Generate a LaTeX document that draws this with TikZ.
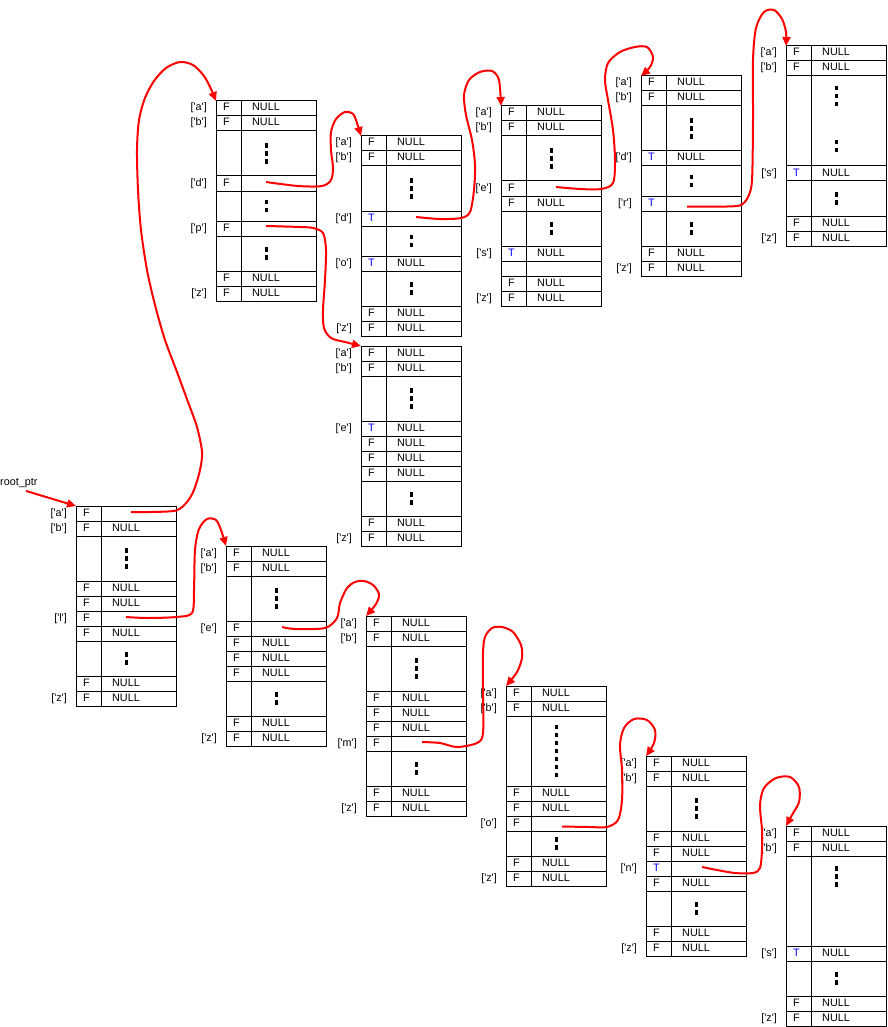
\documentclass[tikz,border=0pt]{standalone}
\usepackage{fontspec}
\newfontfamily\lsans{Liberation Sans}
\usetikzlibrary{arrows.meta,calc}
\definecolor{tblue}{RGB}{0,0,255}
\definecolor{pred}{RGB}{255,0,0}
\def\tokG{G}\def\tokH{H}\def\tokF{F}\def\tokT{T}\def\tokN{N}\def\tokP{P}\def\tokNone{-}
\newcommand\trietable[4]{%
  \node[tbl] (#1) at (#2,#3) {};
  \xdef\ty{#3}%
  \foreach[count=\i] \lab/\flg/\val/\h in {#4}{%
    \pgfmathsetmacro\yb{\ty+\h}%
    \pgfmathsetmacro\ym{\ty+\h/2}%
    \pgfmathsetmacro\yt{\ym+2.5}%
    \draw[cellline] (#2,\ty) rectangle (#2+100,\yb);
    \draw[cellline] (#2+25,\ty) -- (#2+25,\yb);
    \ifx\flg\tokG
      \pgfmathsetmacro\ys{\ym-(8*\val-3.5)/2}%
      \draw[dotcol] (#2+50,\ys) -- ++(0,8*\val-3.5);
    \else
    \ifx\flg\tokH
      \draw[dotcol] (#2+50,\ty+10) -- ++(0,8*\val-3.5);
    \else
      \ifx\lab\tokNone\else
        \node[txt,anchor=base east] (#1r\i l) at (#2-9,\yt) {['\lab']};
      \fi
      \ifx\flg\tokF \node[txt] (#1r\i f) at (#2+10.5,\yt) {F};\fi
      \ifx\flg\tokT \node[txt,text=tblue] (#1r\i f) at (#2+10.5,\yt) {T};\fi
      \ifx\val\tokN \node[txt] (#1r\i v) at (#2+50,\yt) {NULL};\fi
      \ifx\val\tokP \coordinate (#1-\lab) at (#2+50,\ym);\fi
    \fi\fi
    \xdef\ty{\yb}%
  }%
}
\begin{document}
\begin{tikzpicture}[x=1pt,y=-1pt,
  cellline/.style={draw=black,line width=1pt},
  dotcol/.style={draw=black,line width=3pt,dash pattern=on 4.5pt off 3.5pt},
  txt/.style={font=\lsans\fontsize{10.8}{12}\selectfont,inner sep=0pt,anchor=base},
  tbl/.style={inner sep=0pt,minimum width=100pt,minimum height=200pt,anchor=north west},
  ptr/.style={draw=pred,line width=2pt,-{Triangle[length=9pt,width=8pt]}}]
\useasboundingbox (0,0) rectangle (887,1027);

% root table
\trietable{A}{76}{506}{a/F/P/15,b/F/N/15,-/G/3/45,-/F/N/15,-/F/N/15,l/F/P/15,-/F/N/15,-/G/2/35,-/F/N/15,z/F/N/15}
% upper chain
\trietable{B}{216}{101}{a/F/N/15,b/F/N/15,-/G/3/45,d/F/P/15,-/G/2/30,p/F/P/15,-/G/2/35,-/F/N/15,z/F/N/15}
\trietable{C}{361}{136}{a/F/N/15,b/F/N/15,-/G/3/45,d/T/P/15,-/G/2/30,o/T/N/15,-/G/2/35,-/F/N/15,z/F/N/15}
\trietable{D}{361}{346}{a/F/N/15,b/F/N/15,-/G/3/45,e/T/N/15,-/F/N/15,-/F/N/15,-/F/N/15,-/G/2/35,-/F/N/15,z/F/N/15}
\trietable{E}{501}{106}{a/F/N/15,b/F/N/15,-/G/3/45,e/F/P/15,-/F/N/15,-/G/2/35,s/T/N/15,-/E/E/15,-/F/N/15,z/F/N/15}
\trietable{F}{641}{76}{a/F/N/15,b/F/N/15,-/G/3/45,d/T/N/15,-/G/2/30,r/T/P/15,-/G/2/35,-/F/N/15,z/F/N/15}
\trietable{G}{786}{46}{a/F/N/15,b/F/N/15,-/H/3/90,s/T/N/15,-/G/2/35,-/F/N/15,z/F/N/15}
\draw[dotcol] (836,140) -- ++(0,12.5);
% lower chain
\trietable{H}{226}{546}{a/F/N/15,b/F/N/15,-/G/3/45,e/F/P/15,-/F/N/15,-/F/N/15,-/F/N/15,-/G/2/35,-/F/N/15,z/F/N/15}
\trietable{I}{366}{616}{a/F/N/15,b/F/N/15,-/G/3/45,-/F/N/15,-/F/N/15,-/F/N/15,m/F/P/15,-/G/2/35,-/F/N/15,z/F/N/15}
\trietable{J}{506}{686}{a/F/N/15,b/F/N/15,-/G/7/70,-/F/N/15,-/F/N/15,o/F/P/15,-/G/2/25,-/F/N/15,z/F/N/15}
\trietable{K}{646}{756}{a/F/N/15,b/F/N/15,-/G/3/45,-/F/N/15,-/F/N/15,n/T/P/15,-/F/N/15,-/G/2/35,-/F/N/15,z/F/N/15}
\trietable{L}{786}{826}{a/F/N/15,b/F/N/15,-/H/3/90,s/T/N/15,-/G/2/35,-/F/N/15,z/F/N/15}

% root pointer
\node[txt,anchor=base west] (root) at (0,485.5) {root\_ptr};
\coordinate (rootstart) at ($(root.south west)+(26,3)$);
\draw[ptr] (rootstart) -- (A.north west);

% connectors
\draw[ptr] plot[smooth,tension=0.5] coordinates {($(A-a)+(5,-1.5)$) (150,512) (176,510.5) (187,502) (194,490) (200,470) (202,452) (197,427) (188,402) (177,372) (165,340) (155,305) (147,270) (141,230) (138,190) (137,150) (139,120) (145,98) (154,81) (166,68) (180,62) (193,65) (204,76) (211,89) (B.north west)};
\draw[ptr] plot[smooth,tension=0.5] coordinates {($(B-d)+(0,-1.5)$) (298,186) (322,186) (331,180) (333,168) (331,150) (331,132) (336,119) (345,112) (353,114) (357,123) (C.north west)};
\draw[ptr] plot[smooth,tension=0.5] coordinates {($(B-p)+(0,-2.5)$) (300,227) (313,228) (323,233) (326,250) (325,280) (323,310) (324,328) (331,338) (345,342) (D.north west)};
\draw[ptr] plot[smooth,tension=0.5] coordinates {($(C-d)+(5,-1.5)$) (440,219) (461,218) (470,212) (474,190) (475,165) (472,140) (466,115) (464,95) (469,80) (480,72) (492,71) (499,80) (E.north west)};
\draw[ptr] plot[smooth,tension=0.5] coordinates {($(E-e)+(5,-1.5)$) (580,189) (601,189) (613,183) (615,160) (613,130) (608,100) (605,80) (608,63) (620,52) (635,47) (647,47) (653,57) (650,67) (F.north west)};
\draw[ptr] plot[smooth,tension=0.5] coordinates {($(F-r)+(-4,3)$) (727,206.5) (741,205) (748,197) (752,180) (753,120) (753,60) (756,28) (764,12) (774,10) (782,19) (786,32) (G.north west)};
\draw[ptr] plot[smooth,tension=0.5] coordinates {($(A-l)+(0,-1.5)$) (147,618) (176,617) (192,613) (194,590) (195,550) (199,529) (207,519) (216,520) (221,530) (H.north west)};
\draw[ptr] plot[smooth,tension=0.5] coordinates {($(H-e)+(6,-1.5)$) (295,629) (325,628) (337,618) (340,603) (347,588) (355,582) (364,581) (373,585) (379,594) (376,604) (I.north west)};
\draw[ptr] plot[smooth,tension=0.5] coordinates {($(I-m)+(6,-1.5)$) (440,743) (457,747) (477,743) (483,733) (483,690) (483,653) (485,637) (492,628) (502,627) (513,632) (521,645) (522,658) (517,672) (J.north west)};
\draw[ptr] plot[smooth,tension=0.5] coordinates {($(J-o)+(6,3)$) (590,827) (607,827) (618,820) (622,800) (622,770) (620,745) (624,728) (634,719) (647,720) (655,730) (654,743) (K.north west)};
\draw[ptr] plot[smooth,tension=0.5] coordinates {($(K-n)+(6,-1.5)$) (717,870) (735,873) (753,873) (760,868) (762,850) (762,830) (760,805) (764,788) (776,778) (790,777) (799,787) (799,802) (792,815) (L.north west)};
\end{tikzpicture}
\end{document}
